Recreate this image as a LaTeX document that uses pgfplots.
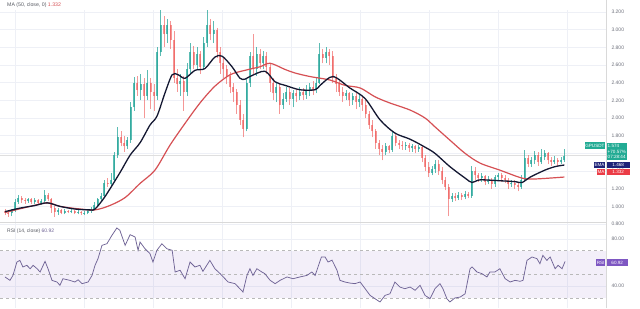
\documentclass[border=0pt]{standalone}
\usepackage{fontspec}
\setmainfont{Liberation Sans}
\usepackage{pgfplots}
\usepackage{pgfplotstable}
\pgfplotsset{compat=1.18}
\definecolor{upc}{RGB}{38,166,154}
\definecolor{dnc}{RGB}{239,83,80}
\definecolor{emac}{RGB}{20,24,50}
\definecolor{mac}{RGB}{214,80,84}
\definecolor{rsic}{RGB}{112,100,150}
\definecolor{gridc}{RGB}{238,240,246}
\definecolor{labc}{RGB}{110,113,124}
\definecolor{tagblue}{RGB}{30,34,120}
\definecolor{tagred}{RGB}{235,60,70}
\definecolor{tagpurple}{RGB}{126,87,194}
\definecolor{taggreen}{RGB}{34,171,148}

\pgfplotstableread{
d o h l c
0 0.95 0.97 0.90 0.93
1 0.93 0.95 0.88 0.92
2 0.92 0.97 0.89 0.95
3 0.95 1.08 0.94 1.05
4 1.05 1.13 1.03 1.10
5 1.10 1.12 1.04 1.07
6 1.07 1.09 1.03 1.06
7 1.06 1.10 1.04 1.08
8 1.08 1.10 1.03 1.05
9 1.05 1.09 1.03 1.07
10 1.07 1.08 1.02 1.04
11 1.04 1.08 1.02 1.06
12 1.06 1.18 1.05 1.13
13 1.13 1.15 1.06 1.08
14 1.08 1.09 0.93 0.98
15 0.98 1.00 0.88 0.94
16 0.94 0.98 0.90 0.96
17 0.96 0.97 0.91 0.93
18 0.93 0.97 0.91 0.95
19 0.95 0.96 0.92 0.94
20 0.94 0.97 0.92 0.95
21 0.95 0.96 0.91 0.93
22 0.93 0.96 0.91 0.94
23 0.94 0.95 0.90 0.92
24 0.92 0.95 0.90 0.93
25 0.93 0.97 0.91 0.95
26 0.95 0.99 0.93 0.97
27 0.97 1.05 0.96 1.02
28 1.02 1.10 1.00 1.08
29 1.08 1.15 1.05 1.12
30 1.12 1.30 1.10 1.27
31 1.27 1.32 1.22 1.25
32 1.25 1.38 1.23 1.30
33 1.30 1.62 1.28 1.58
34 1.58 1.90 1.55 1.78
35 1.78 1.85 1.68 1.72
36 1.72 1.80 1.62 1.68
37 1.68 1.78 1.65 1.75
38 1.75 2.18 1.72 2.12
39 2.12 2.47 2.08 2.40
40 2.40 2.48 2.25 2.32
41 2.32 2.50 2.20 2.38
42 2.38 2.45 2.00 2.25
43 2.25 2.54 2.20 2.40
44 2.40 2.45 2.10 2.30
45 2.30 2.38 2.08 2.25
46 2.25 2.80 2.20 2.75
47 2.75 3.22 2.70 3.05
48 3.05 3.15 2.80 2.95
49 2.95 3.12 2.85 3.05
50 3.05 3.10 2.78 2.88
51 2.88 2.98 2.40 2.45
52 2.45 2.55 2.30 2.38
53 2.38 2.50 2.25 2.42
54 2.42 2.48 2.08 2.30
55 2.30 2.62 2.25 2.55
56 2.55 2.85 2.50 2.75
57 2.75 2.82 2.55 2.60
58 2.60 2.80 2.55 2.72
59 2.72 2.76 2.50 2.58
60 2.58 2.92 2.55 2.85
61 2.85 3.22 2.80 3.05
62 3.05 3.12 2.88 2.95
63 2.95 3.10 2.85 3.00
64 3.00 3.02 2.68 2.75
65 2.75 2.80 2.50 2.62
66 2.62 2.68 2.45 2.55
67 2.55 2.60 2.38 2.48
68 2.48 2.52 2.28 2.35
69 2.35 2.40 2.18 2.30
70 2.30 2.33 2.05 2.15
71 2.15 2.20 1.92 1.98
72 1.98 2.05 1.78 1.88
73 1.88 2.45 1.85 2.40
74 2.40 2.75 2.35 2.70
75 2.70 2.95 2.50 2.55
76 2.55 2.80 2.48 2.72
77 2.72 2.78 2.55 2.62
78 2.62 2.76 2.55 2.70
79 2.70 2.75 2.50 2.58
80 2.58 2.62 2.30 2.40
81 2.40 2.45 2.20 2.28
82 2.28 2.40 2.18 2.35
83 2.35 2.38 2.05 2.15
84 2.15 2.28 2.10 2.22
85 2.22 2.35 2.18 2.30
86 2.30 2.34 2.15 2.22
87 2.22 2.32 2.12 2.28
88 2.28 2.33 2.18 2.25
89 2.25 2.35 2.20 2.30
90 2.30 2.34 2.20 2.26
91 2.26 2.37 2.22 2.32
92 2.32 2.40 2.25 2.35
93 2.35 2.42 2.26 2.32
94 2.32 2.45 2.28 2.40
95 2.40 2.85 2.38 2.72
96 2.72 2.78 2.62 2.68
97 2.68 2.80 2.62 2.75
98 2.75 2.78 2.60 2.70
99 2.70 2.76 2.40 2.45
100 2.45 2.50 2.30 2.38
101 2.38 2.42 2.25 2.30
102 2.30 2.35 2.18 2.25
103 2.25 2.32 2.20 2.28
104 2.28 2.30 2.14 2.20
105 2.20 2.28 2.15 2.25
106 2.25 2.28 2.10 2.18
107 2.18 2.26 2.12 2.22
108 2.22 2.25 2.08 2.15
109 2.15 2.20 2.00 2.05
110 2.05 2.08 1.88 1.92
111 1.92 1.98 1.78 1.85
112 1.85 1.88 1.65 1.72
113 1.72 1.75 1.58 1.65
114 1.65 1.70 1.52 1.62
115 1.62 1.72 1.58 1.68
116 1.68 1.70 1.60 1.64
117 1.64 1.85 1.62 1.80
118 1.80 1.82 1.68 1.72
119 1.72 1.75 1.65 1.70
120 1.70 1.74 1.64 1.68
121 1.68 1.73 1.64 1.70
122 1.70 1.72 1.62 1.66
123 1.66 1.71 1.62 1.68
124 1.68 1.70 1.60 1.65
125 1.65 1.70 1.62 1.67
126 1.67 1.68 1.50 1.55
127 1.55 1.58 1.40 1.45
128 1.45 1.50 1.33 1.38
129 1.38 1.46 1.35 1.42
130 1.42 1.52 1.38 1.48
131 1.48 1.52 1.36 1.40
132 1.40 1.45 1.25 1.30
133 1.30 1.33 1.18 1.22
134 1.22 1.25 0.89 1.08
135 1.08 1.15 1.05 1.12
136 1.12 1.15 1.06 1.10
137 1.10 1.16 1.07 1.13
138 1.13 1.15 1.07 1.11
139 1.11 1.17 1.08 1.14
140 1.14 1.16 1.09 1.12
141 1.12 1.46 1.10 1.40
142 1.40 1.44 1.30 1.35
143 1.35 1.38 1.28 1.32
144 1.32 1.38 1.28 1.34
145 1.34 1.36 1.24 1.28
146 1.28 1.34 1.25 1.30
147 1.30 1.32 1.20 1.25
148 1.25 1.36 1.22 1.33
149 1.33 1.38 1.30 1.35
150 1.35 1.38 1.28 1.32
151 1.32 1.35 1.26 1.30
152 1.30 1.32 1.20 1.25
153 1.25 1.30 1.22 1.27
154 1.27 1.30 1.20 1.24
155 1.24 1.27 1.17 1.22
156 1.22 1.35 1.20 1.30
157 1.30 1.64 1.28 1.55
158 1.55 1.58 1.44 1.48
159 1.48 1.56 1.45 1.52
160 1.52 1.63 1.48 1.58
161 1.58 1.62 1.46 1.50
162 1.50 1.65 1.48 1.56
163 1.56 1.64 1.52 1.60
164 1.60 1.62 1.48 1.52
165 1.52 1.56 1.46 1.50
166 1.50 1.57 1.48 1.53
167 1.53 1.55 1.46 1.50
168 1.50 1.56 1.48 1.52
169 1.52 1.65 1.50 1.574
}\candles

\pgfplotstableread{
d v
0 0.94
4.5 0.98
9.1 1.01
12.7 1.04
16.6 1.00
21.1 0.97
25.7 0.96
27.2 0.97
30.2 1.11
34.7 1.38
37.8 1.58
40.8 1.72
43.8 1.92
45.9 2.02
48.3 2.28
50.5 2.49
52.3 2.49
54.4 2.45
57.4 2.54
60.4 2.56
63.4 2.69
65.6 2.70
68.6 2.58
71.0 2.45
72.5 2.44
74.0 2.47
78.5 2.53
81.6 2.41
84.6 2.37
89.1 2.32
93.7 2.32
95.2 2.37
99.1 2.47
104.2 2.34
108.8 2.22
113.3 1.98
117.8 1.83
122.4 1.76
126.9 1.67
129.9 1.60
134.4 1.45
139.0 1.32
141.1 1.27
143.5 1.30
149.5 1.29
154.1 1.28
156.2 1.27
158.6 1.33
163.1 1.41
166.2 1.45
169 1.468
}\ema

\pgfplotstableread{
d v
0 0.93
7.6 1.00
13.0 1.04
16.6 1.00
22.7 0.97
27.2 0.96
31.7 1.01
36.3 1.10
40.8 1.26
45.3 1.41
49.8 1.69
54.4 1.94
58.9 2.17
63.4 2.36
68.0 2.49
72.5 2.54
77.0 2.58
80.1 2.62
84.6 2.55
87.6 2.51
92.1 2.47
98.2 2.43
102.7 2.37
107.3 2.34
111.8 2.24
116.3 2.17
122.4 2.09
126.9 2.00
129.9 1.90
134.4 1.75
139.0 1.60
143.5 1.49
149.5 1.41
156.2 1.32
160.1 1.31
169 1.332
}\ma

\pgfplotstableread{
d r
0 47.7
1.5 44.8
2.4 49.0
3.6 60.4
4.5 61.8
5.4 56.2
6.6 57.6
7.6 54.7
8.5 57.6
9.7 54.7
10.6 51.9
12.1 61.0
13.0 54.7
14.2 44.8
15.7 43.4
16.6 40.6
17.5 46.2
19.6 44.8
21.1 43.4
22.1 45.3
23.3 42.0
25.1 43.4
26.3 49.0
27.2 57.6
28.1 63.3
29.3 74.6
30.8 76.0
32.3 83.1
33.8 89.4
34.7 87.4
36.3 74.6
37.8 83.7
39.3 81.7
40.2 70.4
40.8 77.4
42.3 71.7
43.8 67.5
44.7 60.4
45.9 70.4
47.4 76.0
48.9 71.7
50.5 70.4
51.4 51.9
52.9 53.4
54.4 46.2
55.9 60.4
57.4 56.2
58.9 57.6
59.8 52.5
61.9 61.8
63.4 54.7
65.0 50.5
67.4 43.4
69.5 42.0
71.9 34.9
73.1 49.0
74.0 54.7
74.9 49.0
76.1 54.7
77.6 51.9
78.5 50.5
80.1 44.8
81.6 42.0
83.1 44.8
85.2 47.7
87.0 46.2
89.1 47.7
91.2 49.0
92.7 51.9
93.7 49.0
94.9 59.0
95.6 64.7
96.7 64.7
97.6 60.4
98.8 62.0
100.3 53.4
101.2 44.8
102.7 43.4
104.2 42.5
105.7 42.0
107.3 43.4
108.8 37.7
110.3 32.0
111.8 29.2
113.3 26.4
114.8 32.0
116.3 33.4
117.8 43.4
119.3 39.1
120.8 37.7
122.4 39.1
123.9 36.3
125.4 40.6
126.9 32.0
128.4 29.2
129.9 37.7
131.4 42.0
132.3 37.7
133.5 29.2
134.4 26.4
135.9 29.8
137.5 30.6
139.0 33.4
140.5 54.7
141.1 56.2
142.6 51.9
144.1 50.5
145.6 47.7
146.5 51.9
148.0 51.9
149.5 54.7
151.1 46.2
152.6 43.4
154.1 44.8
155.6 44.0
156.5 44.8
157.7 61.8
159.2 64.7
160.7 63.3
161.6 59.0
162.5 66.1
163.7 61.8
164.7 64.7
166.2 54.7
167.1 57.6
168.3 54.7
169.2 60.92
}\rsi

\pgfplotsset{
  base/.style={
    scale only axis, width=606pt,
    xmin=-1.51, xmax=181.57,
    axis line style={draw=none},
    major tick length=0pt,
    grid=major, grid style={gridc, line width=0.5pt},
    xtick={3.0,23.9,44.7,65.6,86.4,107.3,128.1,148.9,169.8},
    xticklabels={},
    yticklabel pos=right,
    yticklabel style={font=\fontsize{5}{6}\selectfont, text=labc, xshift=2pt},
    clip=true,
  },
}

\begin{document}
\begin{tikzpicture}[x=1pt,y=1pt]
\useasboundingbox (0,0) rectangle (640,308);
\fill[white] (0,0) rectangle (640,308);

% main price panel
\begin{axis}[base, at={(0,86)}, anchor=south west, height=222pt,
  ymin=0.7094, ymax=3.2226,
  ytick={0.8,1.0,1.2,1.4,1.6,1.8,2.0,2.2,2.4,2.6,2.8,3.0,3.2},
  yticklabels={0.800,1.000,1.200,1.400,,1.800,2.000,2.200,2.400,2.600,2.800,3.000,3.200},
]
\addplot[gray!25, line width=0.5pt, forget plot] coordinates {(-1.51,1.574) (181.57,1.574)};
% wicks
\addplot[draw=none, forget plot, restrict expr to domain={\thisrow{c}-\thisrow{o}}{0:10},
  error bars/.cd, y dir=plus, y explicit, error mark=none,
  error bar style={draw=upc, line width=0.6pt, opacity=0.75}]
  table[x=d, y=l, y error expr=\thisrow{h}-\thisrow{l}] {\candles};
\addplot[draw=none, forget plot, restrict expr to domain={\thisrow{o}-\thisrow{c}}{0.0001:10},
  error bars/.cd, y dir=plus, y explicit, error mark=none,
  error bar style={draw=dnc, line width=0.6pt, opacity=0.6}]
  table[x=d, y=l, y error expr=\thisrow{h}-\thisrow{l}] {\candles};
% bodies
\addplot[draw=none, forget plot, restrict expr to domain={\thisrow{c}-\thisrow{o}}{0:10},
  error bars/.cd, y dir=plus, y explicit, error mark=none,
  error bar style={draw=upc, line width=2pt, opacity=0.75}]
  table[x=d, y=o, y error expr=\thisrow{c}-\thisrow{o}] {\candles};
\addplot[draw=none, forget plot, restrict expr to domain={\thisrow{o}-\thisrow{c}}{0.0001:10},
  error bars/.cd, y dir=plus, y explicit, error mark=none,
  error bar style={draw=dnc, line width=2pt, opacity=0.6}]
  table[x=d, y=c, y error expr=\thisrow{o}-\thisrow{c}] {\candles};
% moving averages
\addplot[mac, line width=1.2pt, smooth, mark=none] table[x=d, y=v] {\ma};
\addplot[emac, line width=1.3pt, smooth, mark=none] table[x=d, y=v] {\ema};
\end{axis}

% RSI panel
\begin{axis}[base, at={(0,0)}, anchor=south west, height=86pt,
  ymin=21.28, ymax=94.47,
  ytick={40,80},
  yticklabels={40.00,80.00},
]
\addplot[draw=none, fill=tagpurple, fill opacity=0.09, forget plot] coordinates {(-1.51,30) (181.57,30) (181.57,70) (-1.51,70)} -- cycle;
\addplot[gray!55, dashed, line width=0.5pt, forget plot] coordinates {(-1.51,70) (181.57,70)};
\addplot[gray!55, dashed, line width=0.5pt, forget plot] coordinates {(-1.51,50) (181.57,50)};
\addplot[gray!55, dashed, line width=0.5pt, forget plot] coordinates {(-1.51,30) (181.57,30)};
\addplot[rsic, line width=0.75pt, mark=none] table[x=d, y=r] {\rsi};
\end{axis}

% panel frames
\draw[gray!30, line width=0.6pt] (606,0) -- (606,308);
\draw[gray!30, line width=0.6pt] (0,86) -- (606,86);

% headers
\node[anchor=west, inner sep=0pt, font=\fontsize{5.2}{6}\selectfont, text=labc!80!black] at (7,303) {MA (50, close, 0) \textcolor{mac}{1.332}};
\node[anchor=west, inner sep=0pt, font=\fontsize{5}{6}\selectfont, text=labc!80!black] at (7,77) {RSI (14, close) \textcolor{rsic}{60.92}};

% price tags
\node[fill=taggreen, text=white, anchor=east, inner sep=0.8pt, minimum height=7pt, font=\fontsize{4.6}{5}\selectfont] at (605.5,162.5) {GPUSDT};
\node[fill=taggreen, text=white, anchor=west, inner sep=1pt, align=left, font=\fontsize{4.6}{5.9}\selectfont] at (606.5,156.5) {1.574\\+70.57\%\\07:28:44};
\node[fill=tagblue, text=white, anchor=east, inner sep=0.8pt, minimum height=6.5pt, font=\fontsize{4.6}{5}\selectfont] at (605.5,143) {EMA};
\node[fill=tagblue, text=white, anchor=west, inner sep=0.8pt, minimum height=6.5pt, minimum width=23pt, font=\fontsize{4.6}{5}\selectfont] at (606.5,143) {1.468};
\node[fill=tagred, text=white, anchor=east, inner sep=0.8pt, minimum height=6.5pt, font=\fontsize{4.6}{5}\selectfont] at (605.5,136) {MA};
\node[fill=tagred, text=white, anchor=west, inner sep=0.8pt, minimum height=6.5pt, minimum width=23pt, font=\fontsize{4.6}{5}\selectfont] at (606.5,136) {1.332};
\node[fill=tagpurple, text=white, anchor=east, inner sep=0.8pt, minimum height=6.5pt, font=\fontsize{4.6}{5}\selectfont] at (605.5,45.5) {RSI};
\node[fill=tagpurple, text=white, anchor=west, inner sep=0.8pt, minimum height=6.5pt, minimum width=21pt, font=\fontsize{4.6}{5}\selectfont] at (606.5,45.5) {60.92};
\end{tikzpicture}
\end{document}
